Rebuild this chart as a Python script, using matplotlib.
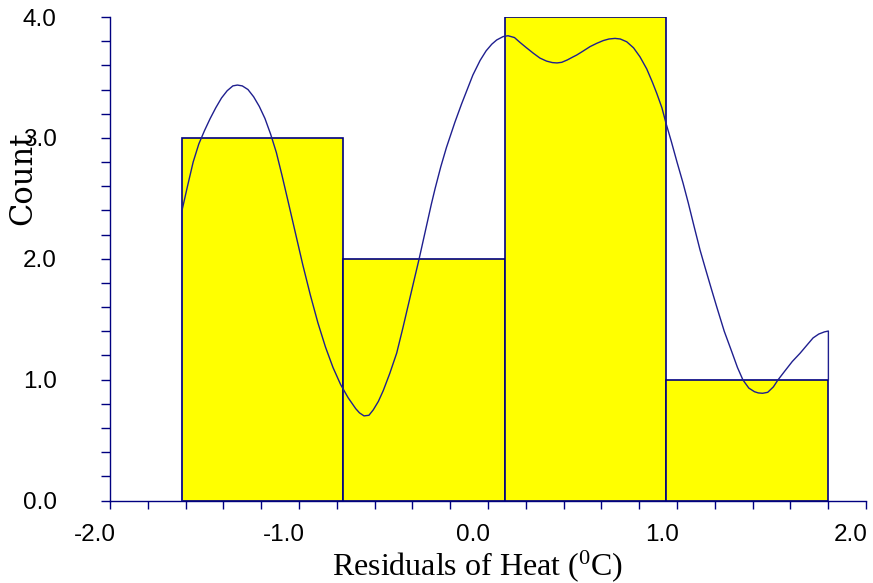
import matplotlib
matplotlib.use("Agg")
import matplotlib.pyplot as plt
from matplotlib.ticker import MultipleLocator, FormatStrFormatter
from matplotlib.transforms import ScaledTranslation

plt.rcParams['mathtext.fontset'] = 'custom'
plt.rcParams['mathtext.rm'] = 'Liberation Serif'
plt.rcParams['mathtext.it'] = 'Liberation Serif:italic'

# Histogram data
bin_edges = [-1.619, -0.767, 0.090, 0.942, 1.799]
counts = [3, 2, 4, 1]

# Smooth density-like curve
curve_x = [-1.619, -1.619, -1.59, -1.56, -1.53, -1.50, -1.47, -1.44, -1.41, -1.38,
           -1.35, -1.326, -1.30, -1.27, -1.24, -1.21, -1.18, -1.15, -1.12, -1.09,
           -1.06, -1.02, -0.98, -0.94, -0.90, -0.86, -0.82, -0.78, -0.74, -0.70,
           -0.68, -0.656, -0.63, -0.607, -0.58, -0.554, -0.52, -0.483, -0.45, -0.42,
           -0.39, -0.365, -0.33, -0.30, -0.28, -0.25, -0.22, -0.19, -0.175, -0.14,
           -0.11, -0.08, -0.042, -0.01, 0.02, 0.046, 0.08, 0.106, 0.14, 0.169,
           0.20, 0.24, 0.275, 0.31, 0.34, 0.365, 0.39, 0.42, 0.45, 0.469,
           0.50, 0.54, 0.575, 0.61, 0.64, 0.672, 0.70, 0.734, 0.77, 0.804,
           0.84, 0.87, 0.893, 0.92, 0.942, 0.97, 1.00, 1.032, 1.06, 1.09,
           1.122, 1.15, 1.18, 1.21, 1.25, 1.29, 1.32, 1.349, 1.38, 1.41,
           1.43, 1.453, 1.48, 1.51, 1.534, 1.57, 1.61, 1.651, 1.69, 1.72,
           1.75, 1.78, 1.801, 1.801]
curve_y = [0.0, 2.40, 2.60, 2.80, 2.95, 3.06, 3.16, 3.25, 3.33, 3.39,
           3.43, 3.437, 3.43, 3.40, 3.34, 3.26, 3.16, 3.03, 2.88, 2.69,
           2.49, 2.22, 1.95, 1.70, 1.47, 1.27, 1.10, 0.96, 0.85, 0.76,
           0.725, 0.70, 0.705, 0.75, 0.82, 0.91, 1.05, 1.22, 1.43, 1.63,
           1.83, 1.995, 2.24, 2.45, 2.58, 2.76, 2.92, 3.06, 3.13, 3.28,
           3.40, 3.52, 3.64, 3.72, 3.775, 3.81, 3.838, 3.845, 3.83, 3.79,
           3.75, 3.70, 3.66, 3.635, 3.623, 3.62, 3.625, 3.645, 3.67, 3.685,
           3.715, 3.755, 3.782, 3.805, 3.818, 3.823, 3.818, 3.795, 3.745, 3.671,
           3.57, 3.46, 3.368, 3.25, 3.12, 2.97, 2.80, 2.626, 2.46, 2.27,
           2.072, 1.92, 1.76, 1.603, 1.40, 1.23, 1.10, 0.997, 0.93, 0.90,
           0.89, 0.887, 0.895, 0.94, 0.997, 1.07, 1.15, 1.218, 1.29, 1.345,
           1.377, 1.395, 1.402, 1.0]

navy = '#000080'
curve_col = '#1f1f8f'

fig = plt.figure(figsize=(8.73, 5.83), dpi=100)
ax = fig.add_axes([110/873, 1 - 500.5/583, (866 - 110)/873, (500.5 - 17)/583])

widths = [bin_edges[i + 1] - bin_edges[i] for i in range(len(counts))]
ax.bar(bin_edges[:-1], counts, width=widths, align='edge', color='#FFFF00',
       edgecolor=navy, linewidth=1.2, zorder=2)
ax.plot(curve_x, curve_y, color=curve_col, linewidth=1.0, zorder=3)

ax.set_xlim(-2.0, 2.0)
ax.set_ylim(0.0, 4.0)

for s in ['top', 'right']:
    ax.spines[s].set_visible(False)
for s in ['left', 'bottom']:
    ax.spines[s].set_color(navy)
    ax.spines[s].set_linewidth(1.0)

ax.xaxis.set_major_locator(MultipleLocator(1.0))
ax.xaxis.set_minor_locator(MultipleLocator(0.2))
ax.yaxis.set_major_locator(MultipleLocator(1.0))
ax.yaxis.set_minor_locator(MultipleLocator(0.2))
ax.xaxis.set_major_formatter(FormatStrFormatter('%.1f'))
ax.yaxis.set_major_formatter(FormatStrFormatter('%.1f'))

ax.tick_params(axis='both', which='both', direction='out', color=navy, width=1.0,
               labelsize=17.5, labelcolor='black')
ax.tick_params(axis='x', which='both', length=6)
ax.tick_params(axis='y', which='both', length=6.5)
ax.tick_params(axis='x', which='major', pad=11)
ax.tick_params(axis='y', which='major', pad=32)

for lbl in ax.get_xticklabels() + ax.get_yticklabels():
    lbl.set_fontfamily('Liberation Sans')
for lbl in ax.get_xticklabels():
    lbl.set_transform(lbl.get_transform() + ScaledTranslation(-15/100, 0, fig.dpi_scale_trans))

fig.text(477/873, 1 - 575/583, 'Residuals of Heat ($^{\\mathrm{0}}$C)',
         family='Liberation Serif', fontsize=23, ha='center', va='baseline')
fig.text(23/873, 1 - 178/583, 'Count', family='DejaVu Serif', fontsize=22,
         rotation=90, ha='center', va='center')

fig.savefig('out.png', dpi=100)
